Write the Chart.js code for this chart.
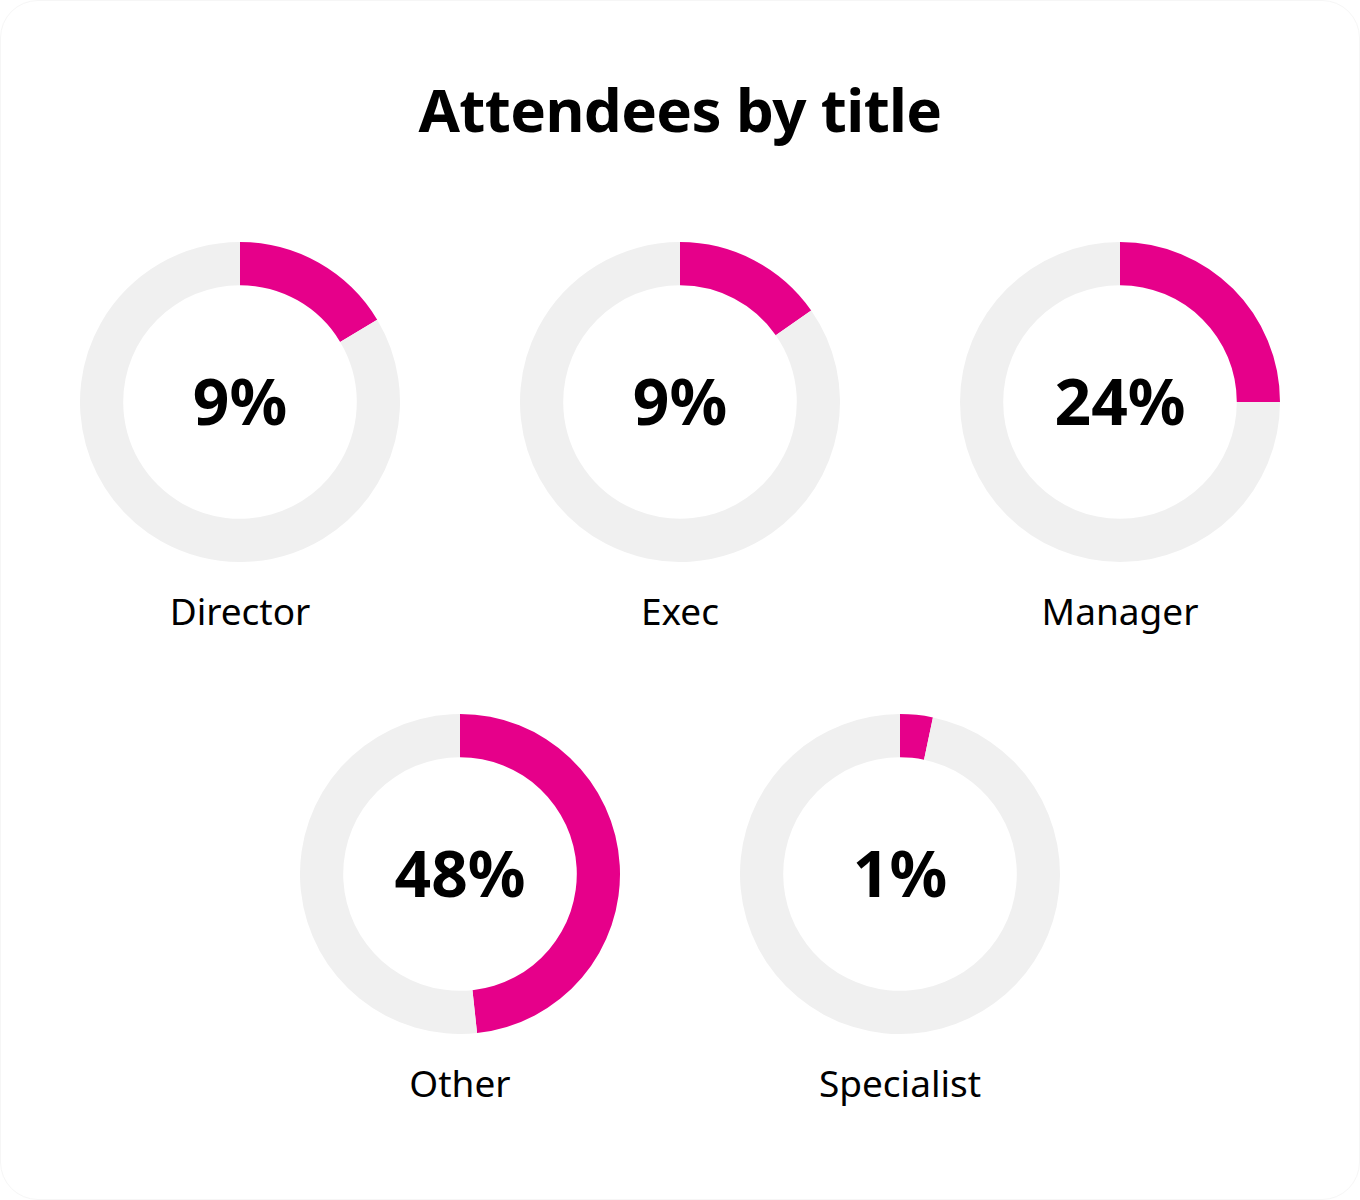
<!DOCTYPE html>
<html>
<head>
<meta charset="utf-8">
<script src="https://cdn.jsdelivr.net/npm/chart.js@4.4.1/dist/chart.umd.min.js"></script>
<style>
  html, body { margin: 0; padding: 0; background: #fff; }
  #page {
    position: relative;
    width: 1358px;
    height: 1198px;
    border: 1px solid #f6f6f6;
    border-radius: 38px;
    font-family: "Noto Sans", sans-serif;
    color: #000;
    overflow: hidden;
  }
  h1 {
    position: absolute;
    left: 0; right: 0; top: 68px;
    margin: 0;
    text-align: center;
    font-size: 60px;
    font-weight: 700;
    letter-spacing: -0.6px;
    line-height: 80px;
  }
  .donut { position: absolute; width: 320px; height: 320px; }
  .label {
    position: absolute;
    width: 400px;
    text-align: center;
    font-size: 37px;
    line-height: 40px;
  }
</style>
</head>
<body>
<div id="page">
  <h1>Attendees by title</h1>
</div>
<script>
const titles = ['Director', 'Exec', 'Manager', 'Other', 'Specialist'];
// numbers printed in the middle of each ring
const shownPercent = [9, 9, 24, 48, 1];
// share of the ring that is filled, as drawn
const arcShare = [16.4, 15.3, 25, 48.3, 3.3];

const pink = '#E6008A';
const track = '#F0F0F0';

// ring centres on the page
const centres = [[239, 401], [679, 401], [1119, 401], [459, 873], [899, 873]];

const centreText = {
  id: 'centreText',
  afterDraw(chart, args, opts) {
    const { ctx } = chart;
    const arc = chart.getDatasetMeta(0).data[0];
    ctx.save();
    ctx.font = '700 64px "Noto Sans", sans-serif';
    ctx.fillStyle = '#000';
    ctx.textAlign = 'center';
    ctx.textBaseline = 'alphabetic';
    ctx.fillText(opts.text, arc.x, arc.y + 23);
    ctx.restore();
  }
};

const page = document.getElementById('page');

titles.forEach((name, i) => {
  const [cx, cy] = centres[i];

  const box = document.createElement('div');
  box.className = 'donut';
  box.style.left = (cx - 160) + 'px';
  box.style.top = (cy - 160) + 'px';
  const canvas = document.createElement('canvas');
  canvas.width = 320;
  canvas.height = 320;
  box.appendChild(canvas);
  page.appendChild(box);

  const label = document.createElement('div');
  label.className = 'label';
  label.textContent = name;
  label.style.left = (cx - 200) + 'px';
  label.style.top = (cy + 189) + 'px';
  page.appendChild(label);

  new Chart(canvas, {
    type: 'doughnut',
    data: {
      labels: [name, ''],
      datasets: [{
        data: [arcShare[i], 100 - arcShare[i]],
        backgroundColor: [pink, track],
        borderWidth: 0
      }]
    },
    options: {
      responsive: false,
      devicePixelRatio: 1,
      animation: false,
      cutout: '73%',
      plugins: {
        legend: { display: false },
        tooltip: { enabled: false },
        centreText: { text: shownPercent[i] + '%' }
      }
    },
    plugins: [centreText]
  });
});
</script>
</body>
</html>
